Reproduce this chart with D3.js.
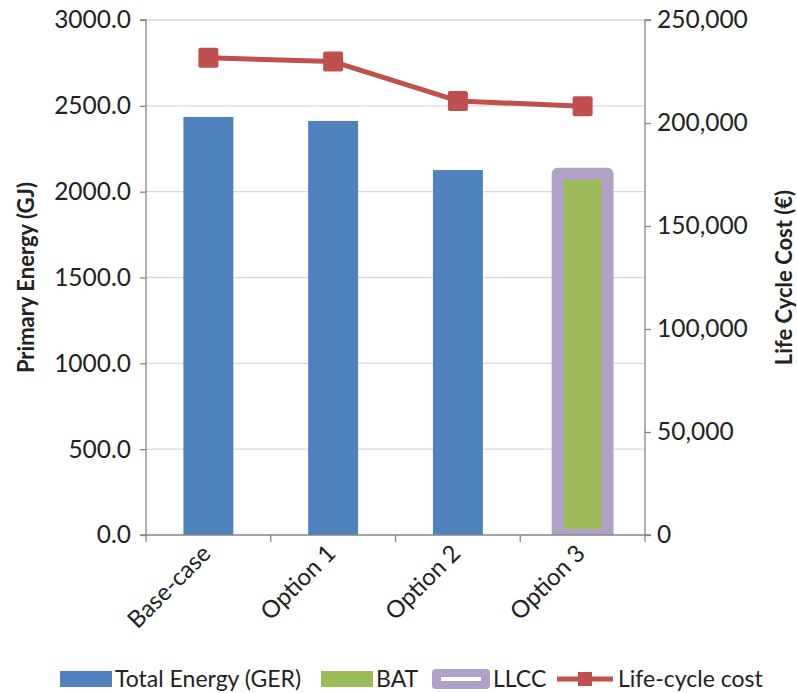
<!DOCTYPE html>
<html>
<head>
<meta charset="utf-8">
<script src="https://cdn.jsdelivr.net/npm/d3@7"></script>
<style>
  html, body { margin: 0; padding: 0; background: #fff; }
  svg { display: block; font-family: Lato, "Open Sans", sans-serif; }
</style>
</head>
<body>
<svg id="chart" width="797" height="693"></svg>
<script>
// Scenarios compared
const categories = ["Base-case", "Option 1", "Option 2", "Option 3"];
// Primary energy per scenario (GJ) – blue bars
const totalEnergy = [2435, 2412, 2126, null];
// Best available technology (GJ) – green bar
const batEnergy = [null, null, null, 2105];
// Least life-cycle cost marker (GJ) – outlined bar
const llccEnergy = [null, null, null, 2105];
// Life-cycle cost per scenario (€)
const lifeCycleCost = [231700, 229800, 210700, 208100];
// Axis ticks
const leftTicks = [0, 500, 1000, 1500, 2000, 2500, 3000];
const rightTicks = [0, 50000, 100000, 150000, 200000, 250000];

const colors = {
  energy: "#4F81BD",
  bat: "#9BBB59",
  llcc: "#B2A1C7",
  cost: "#C0504D",
  axis: "#868686",
  grid: "#D9D9D9",
  text: "#222"
};

const svg = d3.select("#chart");
const plot = { left: 146, right: 645, top: 20, bottom: 535 };

const x = d3.scaleBand()
  .domain(categories)
  .range([plot.left, plot.right])
  .paddingInner(0.6)
  .paddingOuter(0.3);

const yLeft = d3.scaleLinear().domain([0, 3000]).range([plot.bottom, plot.top]);
const yRight = d3.scaleLinear().domain([0, 250000]).range([plot.bottom, plot.top]);

// horizontal gridlines at the primary-energy ticks
svg.append("g")
  .selectAll("line")
  .data(leftTicks.filter(d => d > 0))
  .join("line")
  .attr("x1", plot.left).attr("x2", plot.right)
  .attr("y1", d => yLeft(d)).attr("y2", d => yLeft(d))
  .attr("stroke", colors.grid).attr("stroke-width", 1.3);

// clip so the thick LLCC outline stops at the plot edge
svg.append("defs").append("clipPath").attr("id", "plotClip")
  .append("rect")
  .attr("x", plot.left).attr("y", 0)
  .attr("width", plot.right - plot.left).attr("height", plot.bottom);

const bars = svg.append("g");
bars.selectAll("rect.energy")
  .data(categories.map((c, i) => ({ c, v: totalEnergy[i] })).filter(d => d.v != null))
  .join("rect")
  .attr("class", "energy")
  .attr("x", d => x(d.c)).attr("width", x.bandwidth())
  .attr("y", d => yLeft(d.v)).attr("height", d => yLeft(0) - yLeft(d.v))
  .attr("fill", colors.energy);

bars.selectAll("rect.bat")
  .data(categories.map((c, i) => ({ c, v: batEnergy[i] })).filter(d => d.v != null))
  .join("rect")
  .attr("class", "bat")
  .attr("x", d => x(d.c)).attr("width", x.bandwidth())
  .attr("y", d => yLeft(d.v)).attr("height", d => yLeft(0) - yLeft(d.v))
  .attr("fill", colors.bat);

bars.append("g").attr("clip-path", "url(#plotClip)")
  .selectAll("rect.llcc")
  .data(categories.map((c, i) => ({ c, v: llccEnergy[i] })).filter(d => d.v != null))
  .join("rect")
  .attr("class", "llcc")
  .attr("x", d => x(d.c)).attr("width", x.bandwidth())
  .attr("y", d => yLeft(d.v)).attr("height", d => yLeft(0) - yLeft(d.v))
  .attr("fill", "none")
  .attr("stroke", colors.llcc).attr("stroke-width", 12)
  .attr("stroke-linejoin", "round");

// axes
const leftAxis = d3.axisLeft(yLeft).tickValues(leftTicks).tickSize(6).tickPadding(9)
  .tickFormat(d3.format(".1f"));
const gL = svg.append("g").attr("transform", `translate(${plot.left},0)`).call(leftAxis);

const rightAxis = d3.axisRight(yRight).tickValues(rightTicks).tickSize(6).tickPadding(6)
  .tickFormat(d3.format(","));
const gR = svg.append("g").attr("transform", `translate(${plot.right},0)`).call(rightAxis);

// category axis: ticks at band boundaries, labels rotated
const step = x.step();
const boundaries = d3.range(categories.length + 1).map(i => plot.left + i * step);
const gB = svg.append("g");
gB.append("line")
  .attr("x1", plot.left).attr("x2", plot.right)
  .attr("y1", plot.bottom).attr("y2", plot.bottom)
  .attr("stroke", colors.axis).attr("stroke-width", 1.3);
gB.selectAll("line.tick")
  .data(boundaries)
  .join("line")
  .attr("class", "tick")
  .attr("x1", d => d).attr("x2", d => d)
  .attr("y1", plot.bottom).attr("y2", plot.bottom + 7)
  .attr("stroke", colors.axis).attr("stroke-width", 1.3);
gB.selectAll("text")
  .data(categories)
  .join("text")
  .attr("transform", d => `translate(${x(d) + x.bandwidth() / 2 - 2},${plot.bottom + 14}) rotate(-45)`)
  .attr("text-anchor", "end")
  .attr("dy", "0.35em")
  .attr("font-size", 24)
  .attr("fill", colors.text)
  .text(d => d);

[gL, gR].forEach(g => {
  g.select(".domain").attr("stroke", colors.axis).attr("stroke-width", 1.3);
  g.selectAll(".tick line").attr("stroke", colors.axis).attr("stroke-width", 1.3);
  g.selectAll(".tick text").attr("font-size", 24.5).attr("fill", colors.text)
    .attr("font-family", "Lato, sans-serif");
});
gL.select(".domain").attr("d", `M-6,${plot.top}H0V${plot.bottom}H-6`);
gR.select(".domain").attr("d", `M6,${plot.top}H0V${plot.bottom}H6`);

// life-cycle cost line with square markers
const pts = categories.map((c, i) => [x(c) + x.bandwidth() / 2, yRight(lifeCycleCost[i])]);
svg.append("path")
  .attr("d", d3.line()(pts))
  .attr("fill", "none")
  .attr("stroke", colors.cost).attr("stroke-width", 5)
  .attr("stroke-linejoin", "round");
svg.append("g").selectAll("rect")
  .data(pts)
  .join("rect")
  .attr("x", d => d[0] - 10).attr("y", d => d[1] - 10)
  .attr("width", 20).attr("height", 20)
  .attr("rx", 2)
  .attr("fill", colors.cost);

// axis titles
svg.append("text")
  .attr("transform", `translate(34,${(plot.top + plot.bottom) / 2}) rotate(-90)`)
  .attr("text-anchor", "middle")
  .attr("font-size", 22).attr("font-weight", "bold").attr("fill", colors.text)
  .text("Primary Energy (GJ)");
svg.append("text")
  .attr("transform", `translate(792,${(plot.top + plot.bottom) / 2}) rotate(-90)`)
  .attr("text-anchor", "middle")
  .attr("font-size", 22).attr("font-weight", "bold").attr("fill", colors.text)
  .text("Life Cycle Cost (€)");

// legend
const legendItems = [
  { key: "energy", label: "Total Energy (GER)", x: 60 },
  { key: "bat", label: "BAT", x: 321 },
  { key: "llcc", label: "LLCC", x: 432 },
  { key: "cost", label: "Life-cycle cost", x: 557 }
];
const legend = svg.append("g");
const ly = 679;
legendItems.forEach(item => {
  const g = legend.append("g").attr("transform", `translate(${item.x},${ly})`);
  const sw = 52;
  if (item.key === "energy" || item.key === "bat") {
    g.append("rect").attr("x", 0).attr("y", -8).attr("width", sw).attr("height", 16)
      .attr("fill", colors[item.key]);
  } else if (item.key === "llcc") {
    g.append("rect").attr("x", 0).attr("y", -10).attr("width", sw + 6).attr("height", 20)
      .attr("rx", 4).attr("fill", colors.llcc);
    g.append("rect").attr("x", 9).attr("y", -2).attr("width", sw - 12).attr("height", 4)
      .attr("fill", "#fff");
  } else {
    g.append("line").attr("x1", 0).attr("x2", sw + 4).attr("y1", 0).attr("y2", 0)
      .attr("stroke", colors.cost).attr("stroke-width", 5);
    g.append("rect").attr("x", (sw + 4) / 2 - 7).attr("y", -7).attr("width", 14).attr("height", 14)
      .attr("fill", colors.cost);
  }
  const offset = item.key === "llcc" || item.key === "cost" ? sw + 9 : sw + 3;
  g.append("text").attr("x", offset).attr("y", 0).attr("dy", "0.35em")
    .attr("font-size", 23).attr("fill", colors.text).text(item.label);
});
</script>
</body>
</html>
